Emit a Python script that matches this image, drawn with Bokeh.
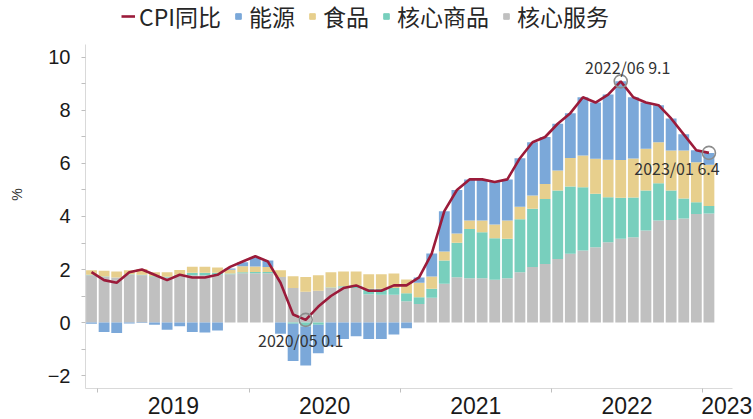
import numpy as np
from bokeh.plotting import figure
from bokeh.models import FixedTicker, Legend, LegendItem, Range1d, ColumnDataSource
from bokeh.embed import file_html
from bokeh.resources import INLINE
from bokeh.core.properties import value

# ---------------- data ----------------
months = [f"{y}/{m:02d}" for y in range(2018, 2024) for m in range(1, 13)][11:61]

cpi = [1.9,
       1.6, 1.5, 1.9, 2.0, 1.8, 1.6, 1.8, 1.7, 1.7, 1.8, 2.1, 2.3,
       2.5, 2.3, 1.5, 0.3, 0.1, 0.6, 1.0, 1.3, 1.4, 1.2, 1.2, 1.4,
       1.4, 1.7, 2.6, 4.2, 5.0, 5.4, 5.4, 5.3, 5.4, 6.2, 6.8, 7.0,
       7.5, 7.9, 8.5, 8.3, 8.6, 9.1, 8.5, 8.3, 8.2, 7.7, 7.1, 6.5,
       6.4]

services = [1.78,
            1.72, 1.70, 1.80, 1.78, 1.72, 1.70, 1.75, 1.78, 1.78, 1.80, 1.82, 1.86,
            1.86, 1.86, 1.72, 1.30, 1.16, 1.20, 1.30, 1.32, 1.30, 1.07, 1.05, 1.05,
            0.80, 0.70, 0.93, 1.46, 1.71, 1.67, 1.67, 1.61, 1.67, 1.90, 2.09, 2.21,
            2.40, 2.59, 2.72, 2.84, 3.03, 3.16, 3.22, 3.47, 3.85, 3.87, 3.92, 4.09,
            4.11]

goods = [0.02,
         0.02, 0.00, 0.02, 0.02, 0.03, 0.03, 0.05, 0.10, 0.10, 0.08, 0.03, 0.04,
         0.05, 0.05, 0.00, -0.05, -0.15, -0.08, 0.02, 0.05, 0.10, 0.20, 0.22, 0.25,
         0.30, 0.25, 0.34, 0.88, 1.30, 1.86, 1.74, 1.57, 1.49, 2.00, 2.20, 2.45,
         2.58, 2.54, 2.38, 2.02, 1.70, 1.55, 1.50, 1.51, 1.40, 1.11, 0.76, 0.45,
         0.29]

food = [0.17,
        0.21, 0.22, 0.15, 0.22, 0.15, 0.17, 0.18, 0.22, 0.22, 0.20, 0.14, 0.22,
        0.20, 0.18, 0.25, 0.45, 0.56, 0.58, 0.58, 0.55, 0.52, 0.55, 0.55, 0.55,
        0.52, 0.55, 0.47, 0.34, 0.35, 0.32, 0.44, 0.52, 0.69, 0.47, 0.50, 0.57,
        0.76, 1.08, 1.20, 1.32, 1.41, 1.42, 1.47, 1.58, 1.55, 1.51, 1.81, 1.51,
        1.55]

energy = [-0.05,
          -0.36, -0.40, -0.04, -0.02, -0.08, -0.27, -0.14, -0.36, -0.38, -0.30, 0.05, 0.15,
          0.35, 0.25, -0.42, -1.40, -1.47, -1.08, -0.90, -0.62, -0.52, -0.62, -0.62, -0.45,
          -0.22, 0.20, 0.86, 1.52, 1.64, 1.55, 1.55, 1.60, 1.55, 1.83, 2.01, 1.77,
          1.76, 1.69, 2.20, 2.12, 2.46, 2.97, 2.31, 1.74, 1.40, 1.21, 0.61, 0.45,
          0.45]

series_names = ["核心服务", "核心商品", "食品", "能源"]
series_colors = ["#c0c0c0", "#78cfbd", "#e7cf8d", "#7ba8d9"]
line_name = "CPI同比"
line_color = "#9b1b3a"
highlight_months = ["2020/05", "2022/06", "2023/01"]

# ---------------- figure ----------------
n = len(months)
xs = [float(i) for i in range(n)]
x_start, x_end = -0.476, 50.87
y_min, y_max, y_axis_top = -2.49, 12.15, 10.5

p = figure(width=753, height=419,
           x_range=Range1d(x_start, x_end), y_range=Range1d(y_min, y_max),
           output_backend="svg", toolbar_location=None,
           min_border_left=85, min_border_right=21,
           min_border_top=0, min_border_bottom=31)
p.outline_line_color = None
p.xgrid.visible = False
p.ygrid.visible = False

# stacked bars (positive up, negative down)
pos_base = np.zeros(n)
neg_base = np.zeros(n)
for vals, col in zip([services, goods, food, energy], series_colors):
    v = np.array(vals, dtype=float)
    bottom = np.where(v >= 0, pos_base, neg_base + v)
    top = np.where(v >= 0, pos_base + v, neg_base)
    pos_base = np.where(v >= 0, pos_base + v, pos_base)
    neg_base = np.where(v < 0, neg_base + v, neg_base)
    p.vbar(x=xs, bottom=bottom.tolist(), top=top.tolist(), width=0.86,
           fill_color=col, line_color=None)

line_r = p.line(xs, cpi, line_color=line_color, line_width=2.6)

# highlighted points
hi_idx = [months.index(m) for m in highlight_months]
hi_x = [float(i) for i in hi_idx]
hi_y = [cpi[i] for i in hi_idx]
p.scatter(hi_x, hi_y, size=13, marker="circle", fill_color=None,
          line_color="#8c8c8c", line_width=1.6)
src = ColumnDataSource(dict(
    x=hi_x, y=hi_y,
    t=[f"{months[i]} {cpi[i]:.1f}" for i in hi_idx],
    dx=[-5, 7, -32], dy=[20, -14, 15]))
p.text(x="x", y="y", text="t", x_offset="dx", y_offset="dy", source=src,
       text_align="center", text_baseline="middle",
       text_font=value("Noto Sans CJK SC"), text_font_size="16px",
       text_color="#333333")

# legend with small square markers (dummy renderers out of view)
dummies = []
for col in reversed(series_colors):
    dummies.append(p.scatter(x=[-100.0], y=[-100.0], marker="square",
                             fill_color=col, line_color=col))
items = [LegendItem(label=line_name, renderers=[line_r])]
for name, r in zip(reversed(series_names), dummies):
    items.append(LegendItem(label=name, renderers=[r]))
legend = Legend(items=items, orientation="horizontal", location=(36, 355),
                glyph_width=14, glyph_height=14, label_standoff=4, spacing=10,
                padding=0, margin=0, border_line_color=None,
                background_fill_alpha=0,
                label_text_font="Noto Sans CJK SC", label_text_font_size="23px",
                label_text_color="#262626", label_height=24)
p.add_layout(legend)

# x axis: year labels centered, boundary ticks as minor ticks
years = sorted(set(m[:4] for m in months))[1:]
bounds = [i - 0.5 for i, m in enumerate(months) if m.endswith("/01")]
centers = []
for k, b in enumerate(bounds):
    if k + 1 < len(bounds):
        centers.append(round((b + bounds[k + 1]) / 2, 3))
    else:
        centers.append(round(x_end - 0.45, 3))
p.xaxis.ticker = FixedTicker(ticks=centers, minor_ticks=bounds)
p.xaxis.major_label_overrides = {c: y for c, y in zip(centers, years)}
p.xaxis.major_tick_line_color = None
p.xaxis.major_tick_out = 0
p.xaxis.major_tick_in = 0
p.xaxis.minor_tick_line_color = "#bfbfbf"
p.xaxis.minor_tick_out = 4
p.xaxis.minor_tick_in = 0
p.xaxis.axis_line_color = "#d9d9d9"
p.xaxis.major_label_standoff = 4
p.xaxis.major_label_text_font = "Liberation Sans"
p.xaxis.major_label_text_font_size = "23px"
p.xaxis.major_label_text_color = "#1a1a1a"

# y axis
p.yaxis.bounds = (y_min, y_axis_top)
p.yaxis.ticker = FixedTicker(ticks=list(range(-2, 11, 2)), minor_ticks=list(range(-1, 10, 2)))
p.yaxis.axis_line_color = "#d9d9d9"
p.yaxis.major_tick_line_color = "#bfbfbf"
p.yaxis.minor_tick_line_color = "#bfbfbf"
p.yaxis.major_tick_out = 4
p.yaxis.major_tick_in = 0
p.yaxis.minor_tick_out = 4
p.yaxis.minor_tick_in = 0
p.yaxis.major_label_standoff = 11
p.yaxis.major_label_text_font = "Liberation Sans"
p.yaxis.major_label_text_font_size = "20px"
p.yaxis.major_label_text_color = "#1a1a1a"
p.yaxis.axis_label = "%"
p.yaxis.axis_label_text_font = "Liberation Sans"
p.yaxis.axis_label_text_font_style = "normal"
p.yaxis.axis_label_text_font_size = "14px"
p.yaxis.axis_label_text_color = "#333333"
p.yaxis.axis_label_standoff = 20

open("out.html", "w").write(file_html(p, INLINE))
